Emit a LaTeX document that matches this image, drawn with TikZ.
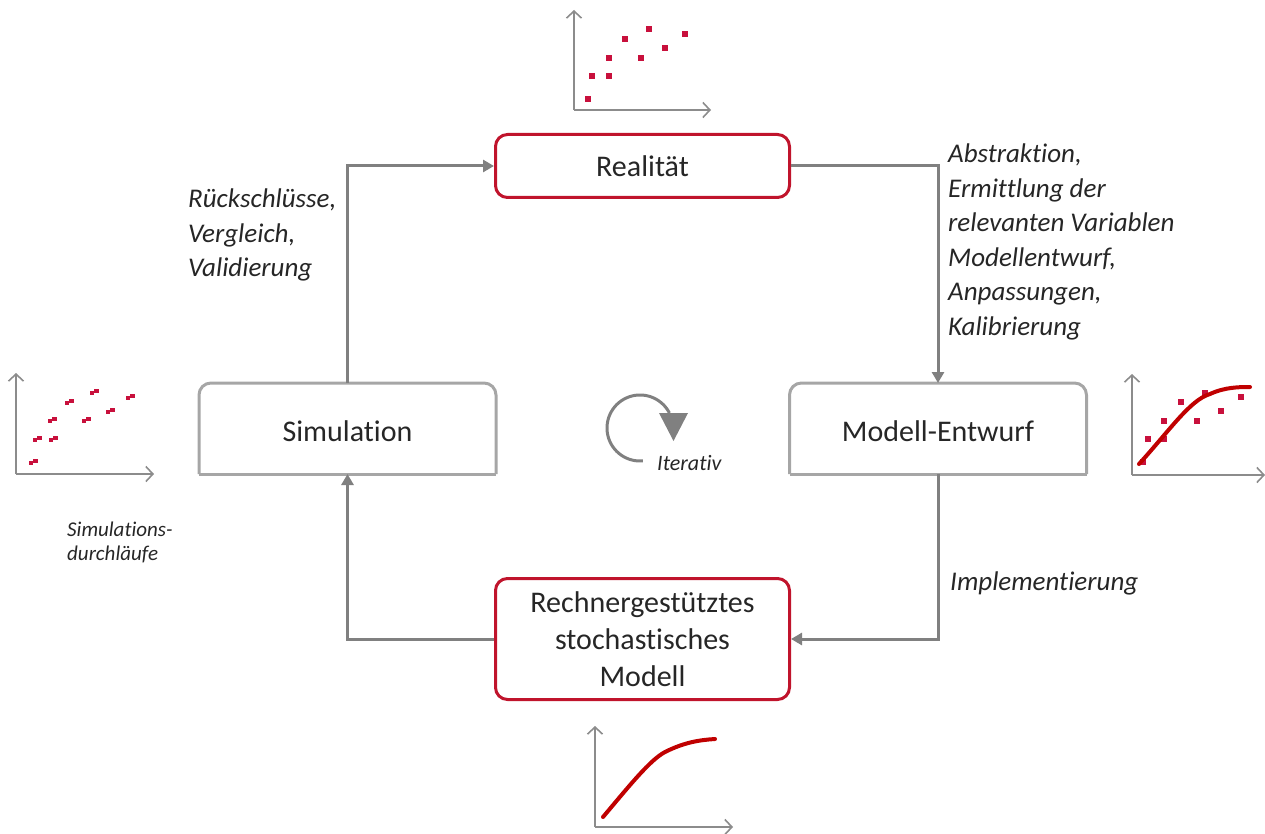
\documentclass[tikz,border=0pt]{standalone}
\usepackage{fontspec}
\setmainfont{Carlito}[Ligatures=NoCommon]
\usetikzlibrary{arrows.meta}
\definecolor{boxred}{HTML}{C0142C}
\definecolor{dotred}{HTML}{C8103C}
\definecolor{curvered}{HTML}{C00000}
\definecolor{conngray}{HTML}{808080}
\definecolor{boxgray}{HTML}{A6A6A6}
\definecolor{axgray}{HTML}{8C8C8C}
\tikzset{
  boxbase/.style={rectangle, line width=3pt, align=center,
    font=\fontsize{30}{37}\selectfont, text=black!85, inner sep=0pt},
  redbox/.style={boxbase, rounded corners=12pt, draw=boxred},
  graybox/.style={boxbase, text height=25.3pt, text depth=0pt},
  grayframe/.style={draw=boxgray, line width=3pt, line cap=square},
  conn/.style={draw=conngray, line width=3pt, -{Triangle[length=11pt,width=12pt]}},
  itlabel/.style={font=\itshape\fontsize{27}{34.5}\selectfont, align=left, text=black!85, inner sep=0pt},
  axis/.style={draw=axgray, line width=1.6pt, -{Straight Barb[length=7pt,width=15pt]}},
  rdot/.style={fill=dotred},
  rcurve/.style={draw=curvered, line width=4pt, line cap=round},
}
\newcommand{\sq}[2]{\fill[rdot] (#1-2.6,#2-2.6) rectangle (#1+2.6,#2+2.6);}
\newcommand{\dsq}[2]{\fill[rdot] (#1-4.5,#2-1) rectangle (#1,#2+3); \fill[rdot] (#1,#2-3) rectangle (#1+4.5,#2+1);}
\begin{document}
\begin{tikzpicture}[x=1pt,y=-1pt]
\useasboundingbox (0,0) rectangle (1265,834);
% main boxes
\node[redbox, minimum width=294pt, minimum height=63pt] (real) at (642.5,166) {Realität};
\node[graybox, minimum width=294pt, minimum height=88pt] (sim) at (347.5,428.5) {Simulation};
\node[graybox, minimum width=294pt, minimum height=88pt] (mod) at (938,428.5) {Modell-Entwurf};
\node[redbox, minimum width=294pt, minimum height=121pt] (rech) at (642.5,639) {Rechnergestütztes\\stochastisches\\Modell};
% gray frames: rounded top, square bottom
\draw[grayframe, rounded corners=12pt] (sim.south west) -- (sim.north west) -- (sim.north east) -- (sim.south east);
\draw[grayframe] (sim.south west) -- (sim.south east);
\draw[grayframe, rounded corners=12pt] (mod.south west) -- (mod.north west) -- (mod.north east) -- (mod.south east);
\draw[grayframe] (mod.south west) -- (mod.south east);
% connectors
\draw[conn] (sim.north) |- (real.west);
\draw[conn] (real.east) -| (mod.north);
\draw[conn] (mod.south) |- (rech.east);
\draw[conn] (rech.west) -| (sim.south);
% labels
\node[itlabel, anchor=north west] (lab1) at (188,189) {Rückschlüsse,\\Vergleich,\\Validierung};
\node[itlabel, anchor=north west] (lab2) at (948,144) {Abstraktion,\\Ermittlung der\\relevanten Variablen\\Modellentwurf,\\Anpassungen,\\Kalibrierung};
\node[itlabel, anchor=north west] (lab3) at (950,572) {Implementierung};
\node[font=\itshape\fontsize{21}{24}\selectfont, align=left, text=black!85, inner sep=0pt, anchor=north west] (lab4) at (67,522) {Simulations-\\durchläufe};
% iterativ icon
\draw[draw=conngray, line width=3pt] plot[domain=85:333, samples=80] ({640+33*cos(\x)},{428+33*sin(\x)});
\fill[conngray] (659,413) -- (688,413) -- (673.5,441) -- cycle;
\node[font=\itshape\fontsize{22}{26}\selectfont, text=black!85, inner sep=0pt, anchor=west] (itr) at (657,463) {Iterativ};
% top plot
\draw[axis] (574,110) -- (574,10);
\draw[axis] (574,110) -- (711,110);
\sq{588}{99}\sq{592}{76}\sq{609}{76}\sq{609}{58}\sq{625}{39}\sq{641}{58}\sq{649}{29}\sq{665}{48}\sq{685}{34}
% left plot
\draw[axis] (16,474) -- (16,373);
\draw[axis] (16,474) -- (154,474);
\dsq{33}{462}\dsq{37}{439}\dsq{53}{439}\dsq{52}{420}\dsq{69}{402}\dsq{86}{420}\dsq{94}{392}\dsq{110}{411}\dsq{130}{397}
% right plot
\draw[axis] (1132,475) -- (1132,374);
\draw[axis] (1132,475) -- (1265,475);
\sq{1143}{462}\sq{1148}{439}\sq{1164}{439}\sq{1164}{421}\sq{1181}{402}\sq{1197}{421}\sq{1205}{393}\sq{1221}{411}\sq{1241}{397}
\draw[rcurve] (1139,464) .. controls (1170,430) and (1190,400) .. (1210,394) .. controls (1225,387) and (1240,387) .. (1250,387);
% bottom plot
\draw[axis] (595,827) -- (595,726);
\draw[axis] (595,827) -- (733,827);
\draw[rcurve] (603,817) .. controls (630,785) and (650,760) .. (665,752) .. controls (685,742) and (700,740) .. (715,739);
\end{tikzpicture}
\end{document}
